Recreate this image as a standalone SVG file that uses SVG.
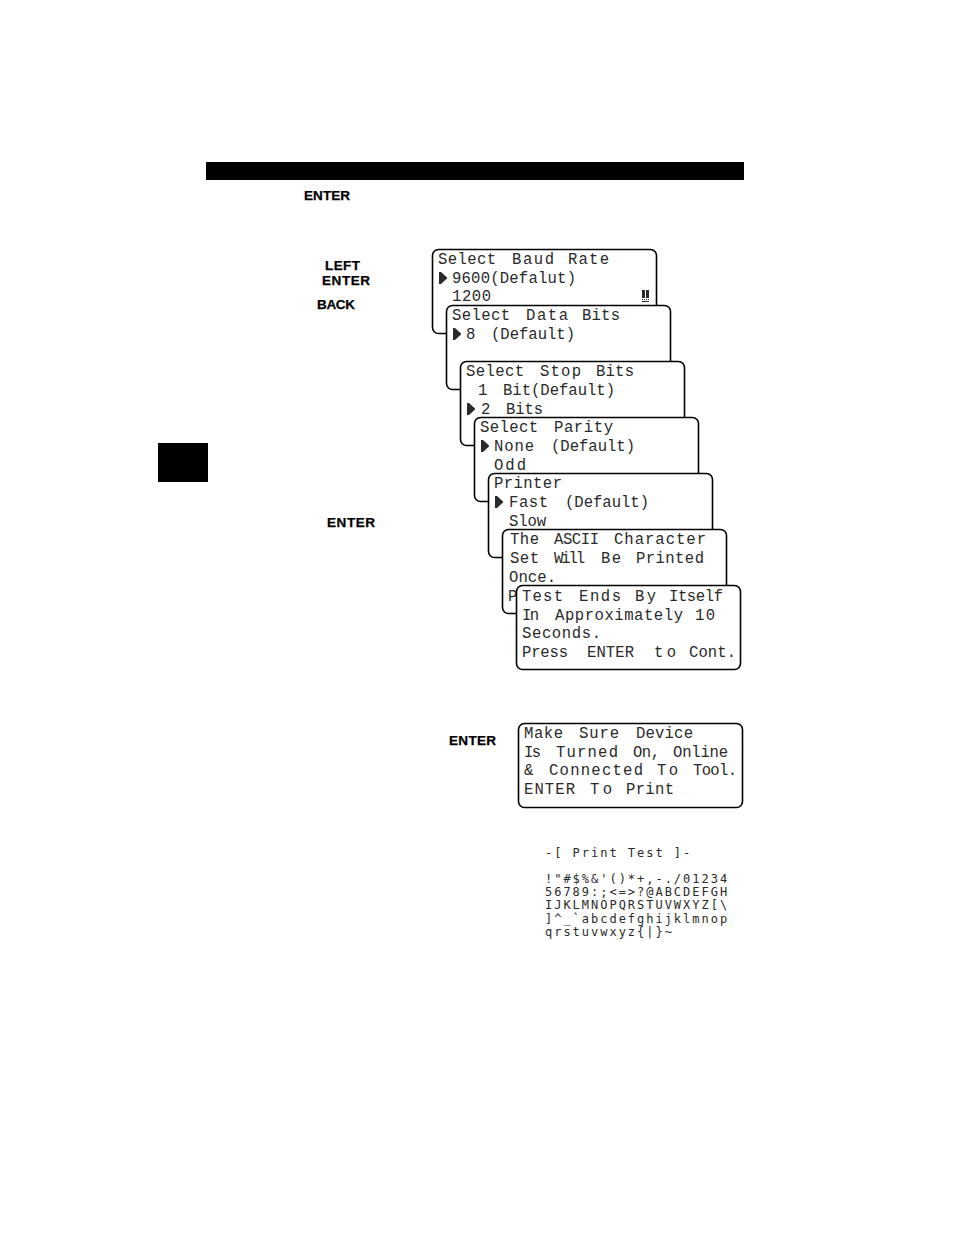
<svg xmlns="http://www.w3.org/2000/svg" width="954" height="1235" viewBox="0 0 954 1235">
<style>
.box{fill:#fff;stroke:#000;stroke-width:1.6}
.lcd{font-family:"Liberation Mono","DejaVu Sans Mono",monospace;font-size:15.6px;fill:#2a2a2a}
.key{font-family:"Liberation Sans",Arial,sans-serif;font-size:13.5px;font-weight:700;fill:#000;stroke:#000;stroke-width:.25}
.pt{font-family:"DejaVu Sans Mono","Liberation Mono",monospace;font-size:12px;letter-spacing:1.98px;fill:#2a2a2a;white-space:pre}
.mark{fill:#2a2a2a}
</style>
<defs>
<path id="arrow" d="M0 0L2 0L8 5.5L8 6.5L2 12L0 12Z"/>
</defs>
<rect id="header-bar" x="206" y="162" width="538" height="18" fill="#000"/>
<rect id="side-tab" x="158" y="443" width="50" height="39" fill="#000"/>
<g id="key-labels">
<text class="key" x="304" y="200" textLength="46">ENTER</text>
<text class="key" x="325" y="270" textLength="35">LEFT</text>
<text class="key" x="322" y="285" textLength="48">ENTER</text>
<text class="key" x="317" y="309" textLength="38">BACK</text>
<text class="key" x="327" y="527" textLength="48">ENTER</text>
<text class="key" x="449" y="745" textLength="47">ENTER</text>
</g>
<g id="screen-baud">
<rect class="box" x="432.5" y="249.5" width="224" height="84" rx="6"/>
<text class="lcd" y="264"><tspan x="438" textLength="58">Select</tspan> <tspan x="512" textLength="42">Baud</tspan> <tspan x="568" textLength="41">Rate</tspan></text>
<use href="#arrow" x="439" y="272" class="mark"/>
<text class="lcd" x="452" y="283" textLength="124">9600(Defalut)</text>
<text class="lcd" x="452" y="301" textLength="39">1200</text>
<path class="mark" d="M642 290h3v8h-3zM646 290h3v8h-3zM642 299h1v1h-1zM644 299h1v1h-1zM646 299h1v1h-1zM648 299h1v1h-1zM642 301h7v1h-7z"/>
</g>
<g id="screen-data">
<rect class="box" x="446.5" y="305.5" width="224" height="84" rx="6"/>
<text class="lcd" y="320"><tspan x="452" textLength="58">Select</tspan> <tspan x="526" textLength="42">Data</tspan> <tspan x="582" textLength="38">Bits</tspan></text>
<use href="#arrow" x="453" y="328" class="mark"/>
<text class="lcd" y="339"><tspan x="466" textLength="9">8</tspan> <tspan x="491" textLength="84">(Default)</tspan></text>
</g>
<g id="screen-stop">
<rect class="box" x="460.5" y="361.5" width="224" height="84" rx="6"/>
<text class="lcd" y="376"><tspan x="466" textLength="58">Select</tspan> <tspan x="540" textLength="41">Stop</tspan> <tspan x="596" textLength="38">Bits</tspan></text>
<text class="lcd" y="395"><tspan x="478" textLength="9">1</tspan> <tspan x="503" textLength="112">Bit(Default)</tspan></text>
<use href="#arrow" x="467" y="403" class="mark"/>
<text class="lcd" y="414"><tspan x="481" textLength="9">2</tspan> <tspan x="506" textLength="37">Bits</tspan></text>
</g>
<g id="screen-parity">
<rect class="box" x="474.5" y="417.5" width="224" height="84" rx="6"/>
<text class="lcd" y="432"><tspan x="480" textLength="58">Select</tspan> <tspan x="554" textLength="59">Parity</tspan></text>
<use href="#arrow" x="481" y="440" class="mark"/>
<text class="lcd" y="451"><tspan x="494" textLength="40">None</tspan> <tspan x="551" textLength="84">(Default)</tspan></text>
<text class="lcd" x="494" y="470" textLength="32">Odd</text>
</g>
<g id="screen-printer">
<rect class="box" x="488.5" y="473.5" width="224" height="84" rx="6"/>
<text class="lcd" x="494" y="488" textLength="68">Printer</text>
<use href="#arrow" x="495" y="496" class="mark"/>
<text class="lcd" y="507"><tspan x="509" textLength="39">Fast</tspan> <tspan x="565" textLength="84">(Default)</tspan></text>
<text class="lcd" x="509" y="526" textLength="37">Slow</text>
</g>
<g id="screen-ascii">
<rect class="box" x="502.5" y="529.5" width="224" height="84" rx="6"/>
<text class="lcd" y="544"><tspan x="510" textLength="29">The</tspan> <tspan x="554" textLength="45">ASCII</tspan> <tspan x="614" textLength="92">Character</tspan></text>
<text class="lcd" y="563"><tspan x="510" textLength="29">Set</tspan> <tspan x="554" textLength="31">Will</tspan> <tspan x="601" textLength="20">Be</tspan> <tspan x="636" textLength="68">Printed</tspan></text>
<text class="lcd" x="509" y="582" textLength="47">Once.</text>
<text class="lcd" x="508" y="601">P</text>
</g>
<g id="screen-test">
<rect class="box" x="516.5" y="585.5" width="224" height="84" rx="6"/>
<text class="lcd" y="601"><tspan x="522" textLength="41">Test</tspan> <tspan x="579" textLength="42">Ends</tspan> <tspan x="635" textLength="21">By</tspan> <tspan x="669" textLength="54">Itself</tspan></text>
<text class="lcd" y="620"><tspan x="522" textLength="17">In</tspan> <tspan x="555" textLength="128">Approximately</tspan> <tspan x="695" textLength="20">10</tspan></text>
<text class="lcd" x="522" y="638" textLength="79">Seconds.</text>
<text class="lcd" y="657"><tspan x="522" textLength="46">Press</tspan> <tspan x="587" textLength="47">ENTER</tspan> <tspan x="654" textLength="22">to</tspan> <tspan x="689" textLength="47">Cont.</tspan></text>
</g>
<g id="screen-print">
<rect class="box" x="518.5" y="723.5" width="224" height="84" rx="6"/>
<text class="lcd" y="738"><tspan x="524" textLength="39">Make</tspan> <tspan x="579" textLength="40">Sure</tspan> <tspan x="636" textLength="57">Device</tspan></text>
<text class="lcd" y="757"><tspan x="524" textLength="17">Is</tspan> <tspan x="556" textLength="62">Turned</tspan> <tspan x="633" textLength="27">On,</tspan> <tspan x="673" textLength="55">Online</tspan></text>
<text class="lcd" y="775"><tspan x="524" textLength="10">&amp;</tspan> <tspan x="549" textLength="94">Connected</tspan> <tspan x="657" textLength="21">To</tspan> <tspan x="693" textLength="44">Tool.</tspan></text>
<text class="lcd" y="794"><tspan x="524" textLength="51">ENTER</tspan> <tspan x="590" textLength="22">To</tspan> <tspan x="626" textLength="48">Print</tspan></text>
</g>
<g id="print-test">
<text class="pt" x="545" y="857">-[ Print Test ]-</text>
<text class="pt" x="545" y="883">!"#$%&amp;'()*+,-./01234</text>
<text class="pt" x="545" y="896">56789:;&lt;=&gt;?@ABCDEFGH</text>
<text class="pt" x="545" y="909">IJKLMNOPQRSTUVWXYZ[\</text>
<text class="pt" x="545" y="923">]^_`abcdefghijklmnop</text>
<text class="pt" x="545" y="936">qrstuvwxyz{|}~</text>
</g>
</svg>
